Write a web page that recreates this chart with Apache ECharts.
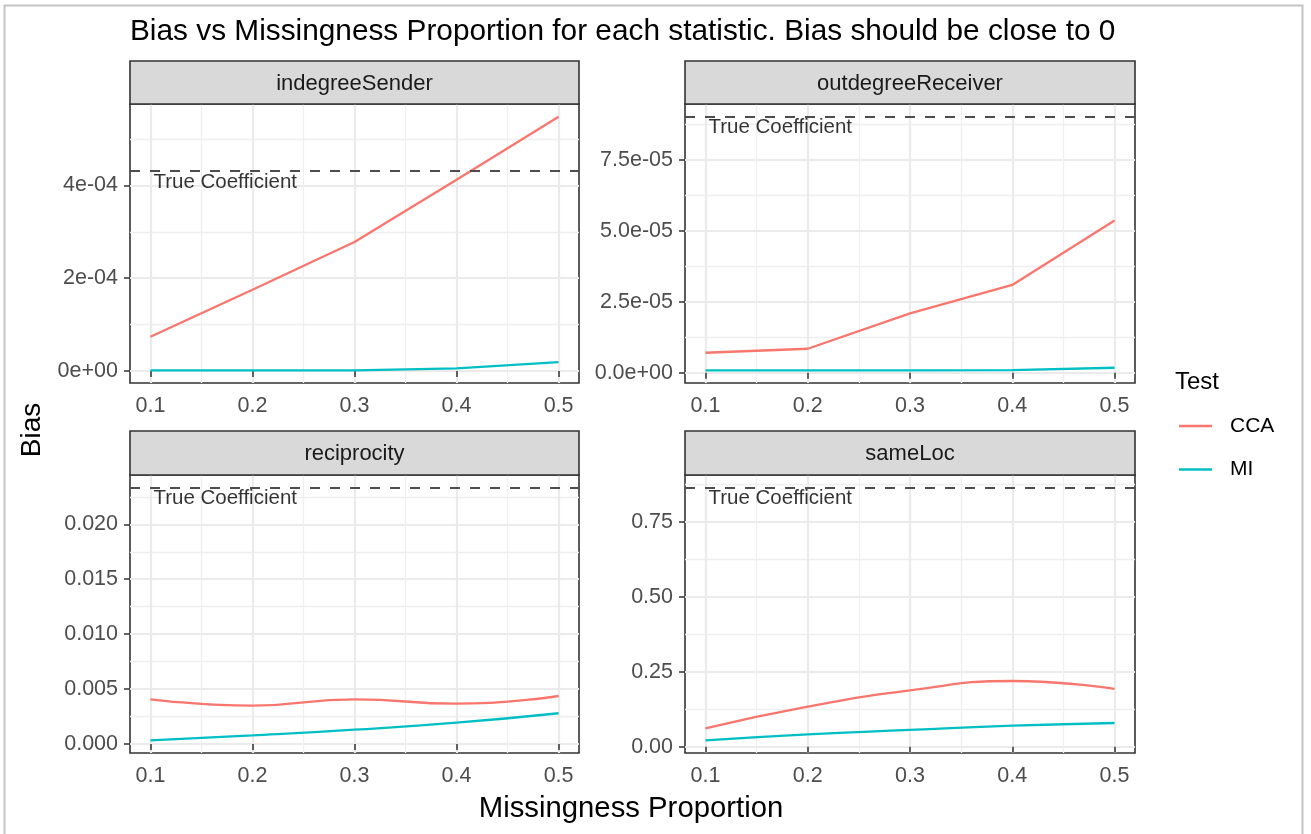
<!DOCTYPE html>
<html><head><meta charset="utf-8">
<script src="https://cdn.jsdelivr.net/npm/echarts@6/dist/echarts.min.js"></script>
<style>html,body{margin:0;padding:0;background:#fff}#c{width:1311px;height:834px}</style>
</head><body><div id="c"></div>
<script>
// ---- data ----
const xValues = [0.1, 0.2, 0.3, 0.4, 0.5];
const xTicks = [0.1, 0.2, 0.3, 0.4, 0.5];
const xTickLabels = ['0.1', '0.2', '0.3', '0.4', '0.5'];
const panelNames = ['indegreeSender', 'outdegreeReceiver', 'reciprocity', 'sameLoc'];
const testNames = ['CCA', 'MI'];

const ccaIndegreeSender = [7.4e-5, 1.75e-4, 2.78e-4, 4.12e-4, 5.48e-4];
const miIndegreeSender = [1.5e-6, 1.5e-6, 1.5e-6, 5.5e-6, 1.9e-5];
const ccaOutdegreeReceiver = [7.1e-6, 8.5e-6, 2.1e-5, 3.1e-5, 5.37e-5];
const miOutdegreeReceiver = [0.9e-6, 0.9e-6, 0.9e-6, 1.0e-6, 1.8e-6];
const ccaReciprocity = [0.00407, 0.00349, 0.00407, 0.00367, 0.00437];
const miReciprocity = [0.00033, 0.00078, 0.0013, 0.00194, 0.0028];
const ccaSameLoc = [0.0612, 0.1333, 0.188, 0.219, 0.193];
const miSameLoc = [0.021, 0.041, 0.0557, 0.07, 0.079];
const trueCoefficient = [4.31e-4, 9.03e-5, 0.02334, 0.864];

const yTicksIndegree = [0, 2e-4, 4e-4];
const yLabelsIndegree = ['0e+00', '2e-04', '4e-04'];
const yTicksOutdegree = [0, 2.5e-5, 5e-5, 7.5e-5];
const yLabelsOutdegree = ['0.0e+00', '2.5e-05', '5.0e-05', '7.5e-05'];
const yTicksRecip = [0, 0.005, 0.01, 0.015, 0.02];
const yLabelsRecip = ['0.000', '0.005', '0.010', '0.015', '0.020'];
const yTicksSameLoc = [0, 0.25, 0.5, 0.75];
const yLabelsSameLoc = ['0.00', '0.25', '0.50', '0.75'];

// ---- build ----
const ccaAll = [ccaIndegreeSender, ccaOutdegreeReceiver, ccaReciprocity, ccaSameLoc];
const miAll = [miIndegreeSender, miOutdegreeReceiver, miReciprocity, miSameLoc];
const yTicksAll = [yTicksIndegree, yTicksOutdegree, yTicksRecip, yTicksSameLoc];
const yLabelsAll = [yLabelsIndegree, yLabelsOutdegree, yLabelsRecip, yLabelsSameLoc];
const smoothAll = [false, false, 0.5, 0.5];

const FONT = '"Liberation Sans", Arial, Helvetica, sans-serif';
const RED = '#F8766D', CYAN = '#00BFC4';
const layout = [
  {left: 130, top: 104, width: 449, height: 279, stripTop: 61},
  {left: 685, top: 104, width: 450, height: 279, stripTop: 61},
  {left: 130, top: 475, width: 449, height: 278, stripTop: 431},
  {left: 685, top: 475, width: 450, height: 278, stripTop: 431}
];

function padExtent(arr) {
  const mn = Math.min(...arr), mx = Math.max(...arr), pad = (mx - mn) * 0.05;
  return [mn - pad, mx + pad];
}
function minorOf(ticks, ext) {
  const step = ticks[1] - ticks[0], out = [];
  for (let i = -1; i < ticks.length; i++) {
    const v = +(ticks[0] + (i + 0.5) * step).toPrecision(12);
    if (v > ext[0] && v < ext[1]) out.push(v);
  }
  return out;
}
function labelFor(ticks, labels) {
  return function (v) {
    const tol = Math.abs(ticks[ticks.length - 1] - ticks[0]) * 1e-6;
    const i = ticks.findIndex(t => Math.abs(t - v) <= tol);
    return i >= 0 ? labels[i] : '';
  };
}

const xExt = padExtent(xValues);
const xMinor = minorOf(xTicks, xExt);

const grids = [], xAxes = [], yAxes = [], series = [], graphics = [];

layout.forEach((g, p) => {
  grids.push({left: g.left, top: g.top, width: g.width, height: g.height, show: true,
    borderColor: '#333333', borderWidth: 1.6, backgroundColor: 'transparent'});
});

layout.forEach((g, p) => {
  const yExt = padExtent(ccaAll[p].concat(miAll[p], [trueCoefficient[p]]));
  xAxes[p] = {
    type: 'value', gridIndex: p, min: xExt[0], max: xExt[1],
    axisLine: {show: false},
    axisTick: {show: true, length: 6, customValues: xTicks, lineStyle: {color: '#333333', width: 1.5}},
    axisLabel: {customValues: xTicks, formatter: labelFor(xTicks, xTickLabels), color: '#4D4D4D',
      fontSize: 21.5, fontFamily: FONT, margin: 12},
    splitLine: {show: true, lineStyle: {color: '#EBEBEB', width: 2.2}}
  };
  yAxes[p] = {
    type: 'value', gridIndex: p, min: yExt[0], max: yExt[1],
    axisLine: {show: false},
    axisTick: {show: true, length: 6, customValues: yTicksAll[p], lineStyle: {color: '#333333', width: 1.5}},
    axisLabel: {customValues: yTicksAll[p], formatter: labelFor(yTicksAll[p], yLabelsAll[p]), color: '#4D4D4D',
      fontSize: 21.5, fontFamily: FONT, margin: 12},
    splitLine: {show: true, lineStyle: {color: '#EBEBEB', width: 2.2}}
  };
  const yMinor = minorOf(yTicksAll[p], yExt);
  xAxes[4 + p] = {
    type: 'value', gridIndex: p, min: xExt[0], max: xExt[1], position: 'bottom',
    axisLine: {show: false}, axisTick: {show: false, customValues: xMinor},
    axisLabel: {show: false, customValues: xMinor},
    splitLine: {show: true, lineStyle: {color: '#EFEFEF', width: 1.3}}
  };
  yAxes[4 + p] = {
    type: 'value', gridIndex: p, min: yExt[0], max: yExt[1], position: 'left',
    axisLine: {show: false}, axisTick: {show: false, customValues: yMinor},
    axisLabel: {show: false, customValues: yMinor},
    splitLine: {show: true, lineStyle: {color: '#EFEFEF', width: 1.3}}
  };

  series.push({
    type: 'line', name: testNames[0], xAxisIndex: p, yAxisIndex: p,
    data: xValues.map((x, i) => [x, ccaAll[p][i]]), symbol: 'none', smooth: smoothAll[p],
    lineStyle: {color: RED, width: 2.3}, itemStyle: {color: RED}, z: 3
  });
  series.push({
    type: 'line', name: testNames[1], xAxisIndex: p, yAxisIndex: p,
    data: xValues.map((x, i) => [x, miAll[p][i]]), symbol: 'none', smooth: smoothAll[p],
    lineStyle: {color: CYAN, width: 2.3}, itemStyle: {color: CYAN}, z: 3
  });
  series.push({
    type: 'scatter', name: 'True Coefficient', xAxisIndex: p, yAxisIndex: p,
    data: [[xValues[0], trueCoefficient[p]]], symbolSize: 0, silent: true, z: 4,
    label: {show: true, position: 'right', distance: 3, offset: [0, 11], formatter: 'True Coefficient',
      color: '#000000', fontSize: 20.5, fontFamily: FONT},
    markLine: {silent: true, precision: 12, symbol: ['none', 'none'], label: {show: false},
      lineStyle: {color: '#4D4D4D', width: 1.8, type: [10, 10]},
      data: [{yAxis: trueCoefficient[p]}]}
  });

  graphics.push({type: 'rect', shape: {x: g.left, y: g.stripTop, width: g.width, height: g.top - g.stripTop},
    style: {fill: '#D9D9D9', stroke: '#333333', lineWidth: 1.6}, z: 10});
  graphics.push({type: 'text', x: g.left + g.width / 2, y: (g.stripTop + g.top) / 2 + 1, z: 11,
    style: {text: panelNames[p], fill: '#1A1A1A', fontSize: 22, fontFamily: FONT,
      textAlign: 'center', textVerticalAlign: 'middle'}});
});

graphics.push({type: 'rect', shape: {x: 4.5, y: 5.5, width: 1298, height: 840},
  style: {fill: 'transparent', stroke: '#C4C4C4', lineWidth: 2}, z: 0});
graphics.push({type: 'text', x: 130, y: 32, z: 11,
  style: {text: 'Bias vs Missingness Proportion for each statistic. Bias should be close to 0',
    fill: '#000000', fontSize: 29.8, fontFamily: FONT, textAlign: 'left', textVerticalAlign: 'middle'}});
graphics.push({type: 'text', x: 631, y: 809, z: 11,
  style: {text: 'Missingness Proportion', fill: '#000000', fontSize: 29.3, fontFamily: FONT,
    textAlign: 'center', textVerticalAlign: 'middle'}});
graphics.push({type: 'text', x: 32, y: 430, rotation: Math.PI / 2, z: 11,
  style: {text: 'Bias', fill: '#000000', fontSize: 28, fontFamily: FONT,
    textAlign: 'center', textVerticalAlign: 'middle'}});
graphics.push({type: 'text', x: 1175, y: 382, z: 11,
  style: {text: 'Test', fill: '#000000', fontSize: 24, fontFamily: FONT,
    textAlign: 'left', textVerticalAlign: 'middle'}});

const chart = echarts.init(document.getElementById('c'), null, {renderer: 'canvas'});
chart.setOption({
  animation: false,
  backgroundColor: '#FFFFFF',
  grid: grids,
  xAxis: xAxes,
  yAxis: yAxes,
  legend: {
    data: testNames, orient: 'vertical', left: 1179, top: 415.5, padding: 0,
    icon: 'rect', itemWidth: 33, itemHeight: 2.5, itemGap: 22.6,
    textStyle: {fontSize: 21, fontFamily: FONT, color: '#000000', lineHeight: 20, padding: [0, 0, 0, 13]}
  },
  series: series,
  graphic: graphics
});
</script></body></html>
